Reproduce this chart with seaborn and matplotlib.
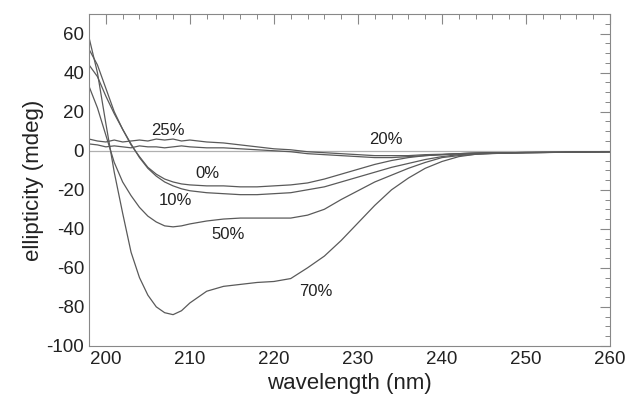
import seaborn as sns
import matplotlib
matplotlib.use('Agg')
import matplotlib.pyplot as plt
from matplotlib.ticker import MultipleLocator
import pandas as pd

wavelength = [198, 199, 200, 201, 202, 203, 204, 205, 206, 207, 208, 209, 210,
              212, 214, 216, 218, 220, 222, 224, 226, 228, 230, 232, 234, 236,
              238, 240, 242, 244, 246, 248, 250, 254, 257, 260]

p70 = [58, 40, 14, -11, -32, -52, -65, -74, -80, -83, -84, -82, -78,
       -72, -69.5, -68.5, -67.5, -67, -65.5, -60, -54, -46, -37, -28, -20, -14,
       -9, -5.5, -3, -1.8, -1.4, -1.2, -1, -0.8, -0.6, -0.5]
p50 = [33, 22, 8, -6, -16, -23, -29, -33.5, -36.5, -38.5, -39, -38.5, -37.5,
       -36, -35, -34.5, -34.5, -34.5, -34.5, -33, -30, -25, -20.5, -16, -12.5, -9,
       -6, -3.5, -2.5, -1.8, -1.4, -1.2, -1, -0.8, -0.6, -0.5]
p0 = [52, 44, 32, 20, 11, 3, -3, -8.5, -12, -14.5, -16, -17, -17.5,
      -18, -18, -18.5, -18.5, -18, -17.5, -16.5, -14.5, -12, -9.5, -7, -5, -3.5,
      -2.5, -2, -1.5, -1.2, -1, -1, -0.9, -0.8, -0.6, -0.5]
p10 = [44, 38, 28, 19, 11, 3.5, -3.5, -9, -13, -16, -18, -19.5, -20.5,
       -21.5, -22, -22.5, -22.5, -22, -21.5, -20, -18.5, -16, -13.5, -11, -8.5, -6.5,
       -4.5, -3, -2, -1.5, -1.2, -1, -0.9, -0.8, -0.6, -0.5]
p25 = [6, 5, 4.5, 5.5, 4.5, 5, 5.5, 5, 6, 5.5, 6, 5, 5.5,
       4.5, 4, 3, 2, 1, 0.5, -0.5, -1, -1.5, -2, -2.5, -2.5, -2.5,
       -2, -1.8, -1.5, -1.2, -1, -1, -0.9, -0.8, -0.6, -0.5]
p20 = [3.5, 3, 2, 2.5, 2, 1.5, 2.5, 2, 2, 1.5, 2, 2.5, 2,
       1.5, 1.5, 1, 0.5, 0, -0.5, -1.5, -2, -2.5, -3, -3.5, -3.5, -3,
       -2.5, -2, -1.5, -1.2, -1, -1, -0.9, -0.8, -0.6, -0.5]

labels = ['0%', '10%', '20%', '25%', '50%', '70%']
label_x = [212.1, 208.3, 233.3, 207.4, 214.6, 225.0]
label_y = [-11.7, -25.4, 5.6, 10.2, -42.7, -72.3]

curves = {'0%': p0, '10%': p10, '20%': p20, '25%': p25, '50%': p50, '70%': p70}
rows = []
for name, vals in curves.items():
    for w, v in zip(wavelength, vals):
        rows.append({'wavelength': w, 'ellipticity': v, 'tfe': name})
df = pd.DataFrame(rows)

sns.set_style('white')
plt.rcParams['font.family'] = ['Liberation Sans', 'DejaVu Sans']
plt.rcParams['axes.unicode_minus'] = False

fig = plt.figure(figsize=(6.27, 4.05), dpi=100)
ax = fig.add_axes([0.142, 0.146, 0.831, 0.819])

ax.axhline(0, color='#b0b0b0', lw=0.9, zorder=1)
sns.lineplot(data=df, x='wavelength', y='ellipticity', units='tfe',
             estimator=None, color='#5a5a5a', lw=0.9, ax=ax, legend=False)

for t, x, y in zip(labels, label_x, label_y):
    ax.text(x, y, t, fontsize=12, ha='center', va='center', color='#222222')

ax.set_xlim(198, 260)
ax.set_ylim(-100, 70)
ax.xaxis.set_major_locator(MultipleLocator(10))
ax.xaxis.set_minor_locator(MultipleLocator(2))
ax.yaxis.set_major_locator(MultipleLocator(20))
ax.yaxis.set_minor_locator(MultipleLocator(5))
ax.set_yticks([60, 40, 20, 0, -20, -40, -60, -80, -100])
ax.tick_params(which='both', direction='in', top=True, right=True,
               color='#888888', labelsize=13.5, labelcolor='#222222')
ax.tick_params(which='major', length=7, width=0.8)
ax.tick_params(which='minor', length=3.5, width=0.7)
for s in ax.spines.values():
    s.set_color('#888888')
    s.set_linewidth(0.8)

ax.set_xlabel('wavelength (nm)', fontsize=16, color='#222222', labelpad=4)
ax.set_ylabel('ellipticity (mdeg)', fontsize=16, color='#222222', labelpad=2)

fig.savefig('out.png', dpi=100)
